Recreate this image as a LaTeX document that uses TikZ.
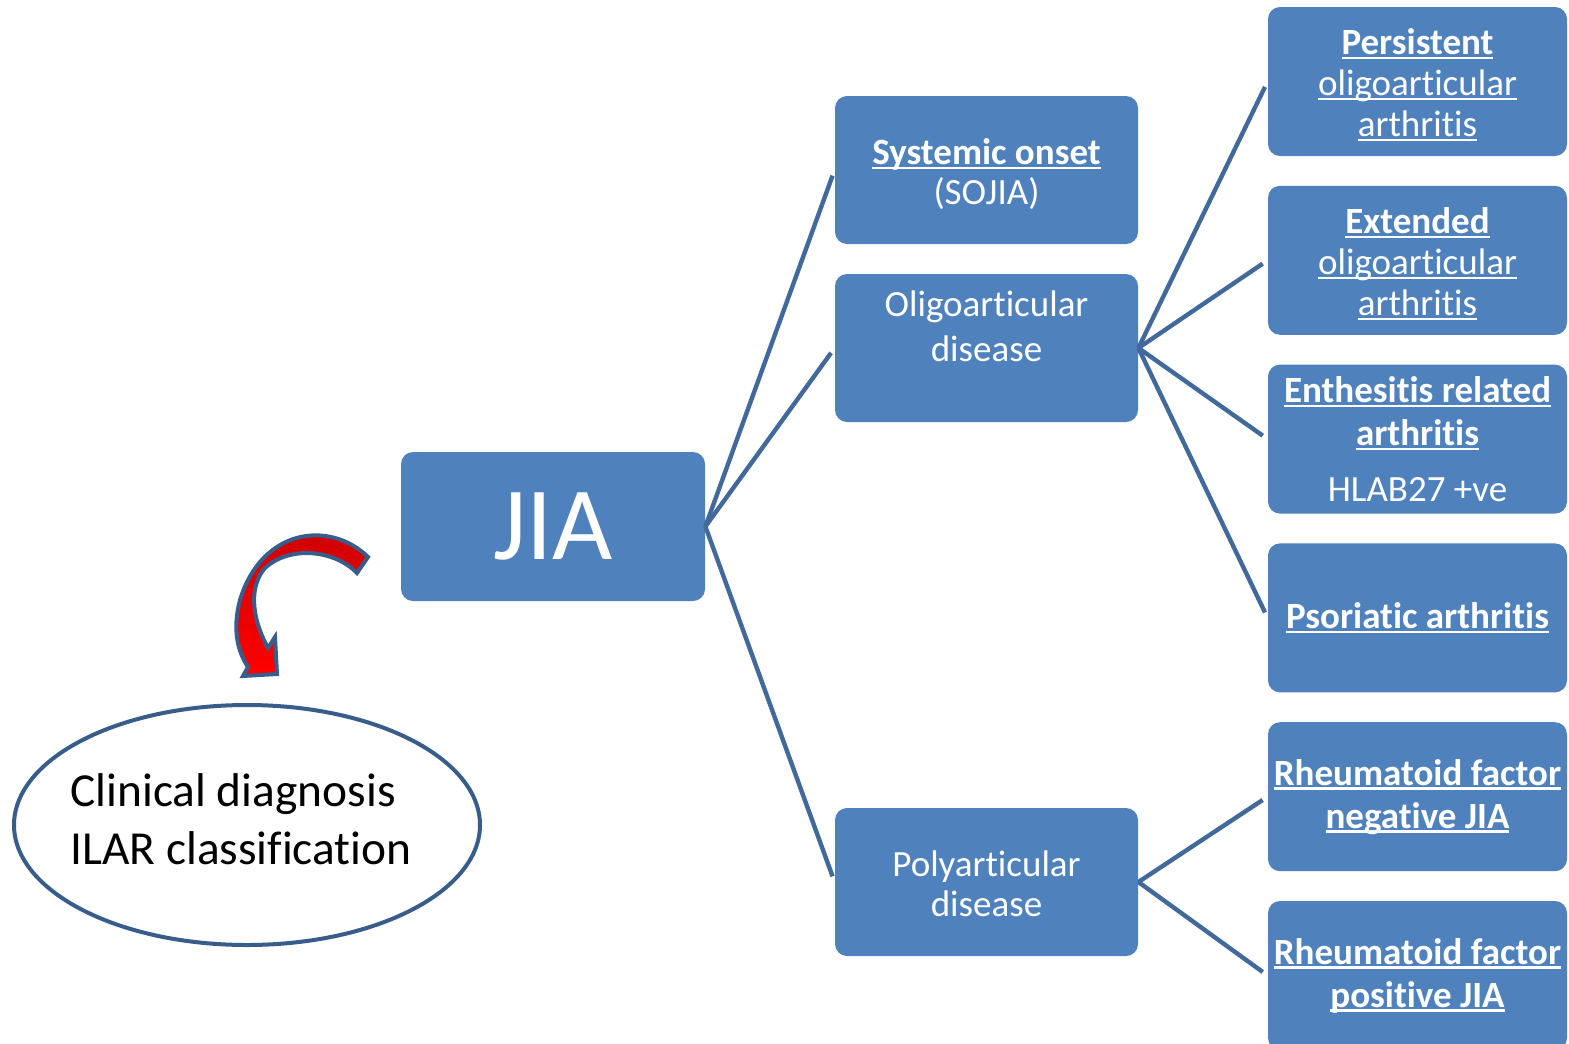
\documentclass[tikz,border=0pt]{standalone}
\usepackage{fontspec}
\setmainfont{Carlito}[Ligatures=NoCommon]
\usepackage{xcolor}
\usetikzlibrary{shapes.geometric,positioning,calc}

\newsavebox{\ulinebox}
\newcommand{\ulin}[1]{\leavevmode\sbox{\ulinebox}{#1}\rlap{\rule[-2.4pt]{\wd\ulinebox}{1.2pt}}\usebox{\ulinebox}}
\newcommand{\ulbf}[1]{\ulin{\textbf{#1}}}
\newcommand{\tstrut}[1]{\rule{0pt}{#1}}

\definecolor{boxblue}{HTML}{4F81BD}
\definecolor{lineblue}{HTML}{41699C}
\definecolor{rimblue}{HTML}{385D8A}

\begin{document}
\begin{tikzpicture}[
    x=0.5pt, y=-0.5pt,
    node distance=14.5pt,
    base/.style={rectangle, fill=boxblue, text=white, rounded corners=6pt, align=center, inner sep=2pt},
    mid/.style={base, minimum width=151.5pt, minimum height=74pt, font=\fontsize{18.5}{20}\selectfont},
    sub/.style={base, minimum width=149.5pt, minimum height=74.5pt, font=\fontsize{18.5}{20.5}\selectfont},
    link/.style={draw=lineblue, line width=2.2pt, shorten >=3pt}
]
    \useasboundingbox (0,0) rectangle (1569,1044);

    \node [base, minimum width=152pt, minimum height=74.5pt, font=\fontsize{52}{60}\selectfont] (jia) at (553,526.5) {JIA};

    \node [mid] (sys) at (986.5,170) {\tstrut{17pt}\ulbf{Systemic onset}\\(SOJIA)};
    \node [mid, font=\fontsize{18.5}{22.5}\selectfont] (oligo) at (986.5,348) {Oligoarticular\\disease\\[-7pt]\strut};
    \node [mid] (poly) at (986.5,882) {\tstrut{15pt}Polyarticular\\disease};

    \node [sub] (pers) at (1417.5,81.5) {\tstrut{16.5pt}\ulbf{Persistent}\\\ulin{oligoarticular}\\\ulin{arthritis}};
    \node [sub, below=of pers] (ext) {\tstrut{16.5pt}\ulbf{Extended}\\\ulin{oligoarticular}\\\ulin{arthritis}};
    \node [sub, below=of ext, font=\fontsize{18.5}{21.5}\selectfont] (enth) {\ulbf{Enthesitis related}\\\ulbf{arthritis}\\[6.5pt]HLAB27 +ve};
    \node [sub, below=of enth] (psor) {\ulbf{Psoriatic arthritis}};
    \node [sub, below=of psor, font=\fontsize{18.5}{21.5}\selectfont] (rfneg) {\ulbf{Rheumatoid factor}\\\ulbf{negative JIA}};
    \node [sub, below=of rfneg, font=\fontsize{18.5}{21.5}\selectfont] (rfpos) {\ulbf{Rheumatoid factor}\\\ulbf{positive JIA}};

    \draw [link] (jia.east) -- (sys.west);
    \draw [link] (jia.east) -- (oligo.west);
    \draw [link] (jia.east) -- (poly.west);

    \draw [link] (oligo.east) -- (pers.west);
    \draw [link] (oligo.east) -- (ext.west);
    \draw [link] (oligo.east) -- (enth.west);
    \draw [link] (oligo.east) -- (psor.west);

    \draw [link] (poly.east) -- (rfneg.west);
    \draw [link] (poly.east) -- (rfpos.west);

    % curved pointer and diagnosis bubble
    \draw [rimblue, line width=2pt, top color=red!80!black, bottom color=red]
        (368,557) .. controls (330,520) and (262,528) .. (240,600)
        .. controls (232,630) and (238,652) .. (248,667)
        -- (243,676) -- (277,674) -- (275,637) -- (268,648)
        .. controls (250,615) and (250,585) .. (265,568)
        .. controls (290,545) and (335,550) .. (357,573) -- cycle;

    \node [ellipse, draw=rimblue, line width=2pt, fill=white, minimum width=233pt, minimum height=120pt] (diag) at (247,825) {};
    \node [align=left, font=\fontsize{23.7}{29}\selectfont] (diagtext) at (241,819) {Clinical diagnosis\\ILAR classification};
\end{tikzpicture}
\end{document}
